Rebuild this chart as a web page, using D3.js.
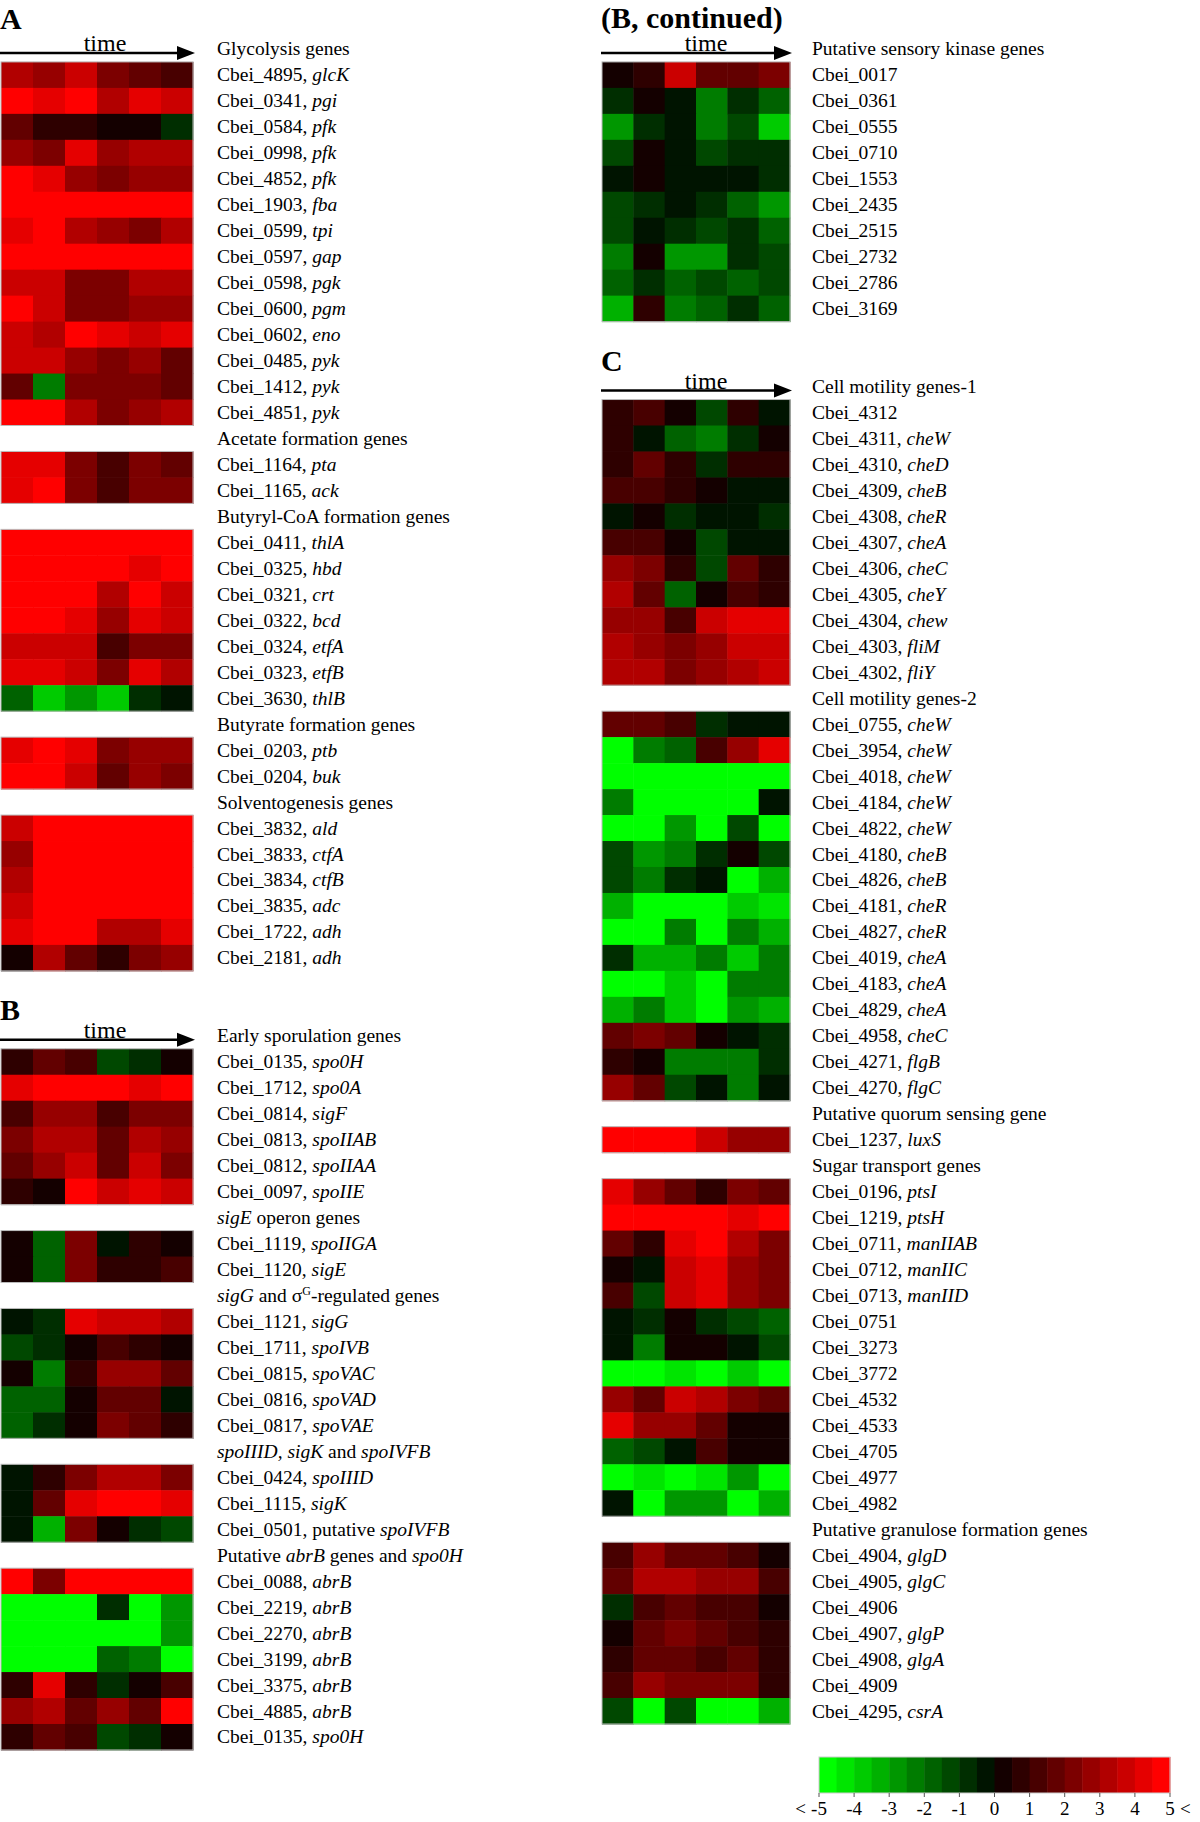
<!DOCTYPE html>
<html><head><meta charset="utf-8">
<script src="https://cdn.jsdelivr.net/npm/d3@7"></script>
<style>body{margin:0;background:#fff}svg{display:block}</style>
</head><body>
<svg id="c" width="1200" height="1822"></svg>
<script>
const leftRows = [
 [-1,"Glycolysis genes",null],
 [0,"Cbei_4895, *glcK*",[3.5,3,4,2.5,2,1.5]],
 [1,"Cbei_0341, *pgi*",[5,4.5,5,3.5,4.5,4]],
 [2,"Cbei_0584, *pfk*",[2,1,1,0.5,0.5,-1]],
 [3,"Cbei_0998, *pfk*",[3,2.5,4.5,3,3.5,3.5]],
 [4,"Cbei_4852, *pfk*",[5,4.5,3,2.5,3,3]],
 [5,"Cbei_1903, *fba*",[5,5,5,5,5,5]],
 [6,"Cbei_0599, *tpi*",[4.5,5,3.5,3,2.5,3.5]],
 [7,"Cbei_0597, *gap*",[5,5,5,5,5,5]],
 [8,"Cbei_0598, *pgk*",[4,4,2.5,2.5,3.5,3.5]],
 [9,"Cbei_0600, *pgm*",[5,4,2.5,2.5,3,3]],
 [10,"Cbei_0602, *eno*",[4,3.5,5,4.5,4,4.5]],
 [11,"Cbei_0485, *pyk*",[4,4,3,2.5,3,2]],
 [12,"Cbei_1412, *pyk*",[2,-2.5,2.5,2.5,2.5,2]],
 [13,"Cbei_4851, *pyk*",[5,5,3.5,2.5,3,3.5]],
 [14,"Acetate formation genes",null],
 [15,"Cbei_1164, *pta*",[4.5,4.5,2.5,1.5,2.5,2]],
 [16,"Cbei_1165, *ack*",[4.5,5,2.5,1.5,2.5,2.5]],
 [17,"Butyryl-CoA formation genes",null],
 [18,"Cbei_0411, *thlA*",[5,5,5,5,5,5]],
 [19,"Cbei_0325, *hbd*",[5,5,5,5,4.5,5]],
 [20,"Cbei_0321, *crt*",[5,5,5,3.5,5,4]],
 [21,"Cbei_0322, *bcd*",[5,5,4.5,3,4.5,4]],
 [22,"Cbei_0324, *etfA*",[4,4,4,1.5,2.5,2.5]],
 [23,"Cbei_0323, *etfB*",[4.5,4.5,4,2.5,4.5,3.5]],
 [24,"Cbei_3630, *thlB*",[-2,-4,-3,-4,-1,-0.5]],
 [25,"Butyrate formation genes",null],
 [26,"Cbei_0203, *ptb*",[4.5,5,4.5,2.5,3,3]],
 [27,"Cbei_0204, *buk*",[5,5,4,2,3,2.5]],
 [28,"Solventogenesis genes",null],
 [29,"Cbei_3832, *ald*",[4,5,5,5,5,5]],
 [30,"Cbei_3833, *ctfA*",[3,5,5,5,5,5]],
 [31,"Cbei_3834, *ctfB*",[3.5,5,5,5,5,5]],
 [32,"Cbei_3835, *adc*",[4,5,5,5,5,5]],
 [33,"Cbei_1722, *adh*",[4.5,5,5,3.5,3.5,4.5]],
 [34,"Cbei_2181, *adh*",[0.5,3.5,2,1,2.5,3]],
 [37,"Early sporulation genes",null],
 [38,"Cbei_0135, *spo0H*",[1,2,1.5,-1.5,-1,0.5]],
 [39,"Cbei_1712, *spo0A*",[4.5,5,5,5,4.5,5]],
 [40,"Cbei_0814, *sigF*",[1.5,3,3,1.5,2.5,2.5]],
 [41,"Cbei_0813, *spoIIAB*",[2.5,3.5,3.5,2,3.5,3]],
 [42,"Cbei_0812, *spoIIAA*",[2,3,4,2,4,2.5]],
 [43,"Cbei_0097, *spoIIE*",[1,0.5,5,4,4.5,4]],
 [44,"*sigE* operon genes",null],
 [45,"Cbei_1119, *spoIIGA*",[0.5,-2,2.5,-0.5,1,0.5]],
 [46,"Cbei_1120, *sigE*",[0.5,-2,2.5,1,1,1.5]],
 [47,"*sigG* and σ^G^-regulated genes",null],
 [48,"Cbei_1121, *sigG*",[-0.5,-1,4.5,4,4,3.5]],
 [49,"Cbei_1711, *spoIVB*",[-1.5,-1,0.5,1.5,1,0.5]],
 [50,"Cbei_0815, *spoVAC*",[0.5,-2.5,1,3,3,2]],
 [51,"Cbei_0816, *spoVAD*",[-2,-2,0.5,2,2,-0.5]],
 [52,"Cbei_0817, *spoVAE*",[-2,-1,0.5,2.5,2,1]],
 [53,"*spoIIID, sigK* and *spoIVFB*",null],
 [54,"Cbei_0424, *spoIIID*",[-0.5,1,2.5,3.5,3.5,2.5]],
 [55,"Cbei_1115, *sigK*",[-0.5,2,4.5,5,5,4.5]],
 [56,"Cbei_0501, putative *spoIVFB*",[-0.5,-3.5,2.5,0.5,-1,-1.5]],
 [57,"Putative *abrB* genes and *spo0H*",null],
 [58,"Cbei_0088, *abrB*",[5,2.5,5,5,5,5]],
 [59,"Cbei_2219, *abrB*",[-5,-5,-5,-1,-5,-3]],
 [60,"Cbei_2270, *abrB*",[-5,-5,-5,-5,-5,-3]],
 [61,"Cbei_3199, *abrB*",[-5,-5,-5,-2,-2.5,-5]],
 [62,"Cbei_3375, *abrB*",[1,4.5,1,-1,0.5,1.5]],
 [63,"Cbei_4885, *abrB*",[3,3.5,2,3,2,5]],
 [64,"Cbei_0135, *spo0H*",[1,2,1.5,-1.5,-1,0.5]]
];
const rightRows = [
 [-1,"Putative sensory kinase genes",null],
 [0,"Cbei_0017",[0.5,1,4,2,2,2.5]],
 [1,"Cbei_0361",[-1,0.5,-0.5,-2.5,-1,-2]],
 [2,"Cbei_0555",[-3,-1,-0.5,-2.5,-1.5,-4]],
 [3,"Cbei_0710",[-1.5,0.5,-0.5,-1.5,-1,-1]],
 [4,"Cbei_1553",[-0.5,0.5,-0.5,-0.5,-0.5,-1]],
 [5,"Cbei_2435",[-1.5,-1,-0.5,-1,-2,-3]],
 [6,"Cbei_2515",[-1.5,-0.5,-1,-1.5,-1,-2]],
 [7,"Cbei_2732",[-2.5,0.5,-3,-3,-1,-1.5]],
 [8,"Cbei_2786",[-2,-1,-2,-1.5,-2,-1.5]],
 [9,"Cbei_3169",[-3.5,1,-2.5,-2,-1,-2]],
 [12,"Cell motility genes-1",null],
 [13,"Cbei_4312",[1,1.5,0.5,-1.5,1,-0.5]],
 [14,"Cbei_4311, *cheW*",[1,-0.5,-2,-2.5,-1,0.5]],
 [15,"Cbei_4310, *cheD*",[1,2,1,-1,1,1]],
 [16,"Cbei_4309, *cheB*",[1.5,1.5,1,0.5,-0.5,-0.5]],
 [17,"Cbei_4308, *cheR*",[-0.5,0.5,-1,-0.5,-0.5,-1]],
 [18,"Cbei_4307, *cheA*",[1.5,1.5,0.5,-1.5,-0.5,-0.5]],
 [19,"Cbei_4306, *cheC*",[3,2.5,1,-1.5,2,1]],
 [20,"Cbei_4305, *cheY*",[3.5,2,-2,0.5,1.5,1]],
 [21,"Cbei_4304, *chew*",[3,3,1.5,4,4.5,4.5]],
 [22,"Cbei_4303, *fliM*",[3.5,3,2.5,3,4,4]],
 [23,"Cbei_4302, *fliY*",[3.5,3.5,2.5,3,3.5,4]],
 [24,"Cell motility genes-2",null],
 [25,"Cbei_0755, *cheW*",[2,2,1.5,-1,-0.5,-0.5]],
 [26,"Cbei_3954, *cheW*",[-5,-2.5,-2,1.5,3,4.5]],
 [27,"Cbei_4018, *cheW*",[-5,-5,-5,-5,-5,-5]],
 [28,"Cbei_4184, *cheW*",[-2.5,-5,-5,-5,-5,-0.5]],
 [29,"Cbei_4822, *cheW*",[-5,-5,-3,-5,-1.5,-5]],
 [30,"Cbei_4180, *cheB*",[-1.5,-3,-2.5,-1,0.5,-1.5]],
 [31,"Cbei_4826, *cheB*",[-1.5,-2.5,-1,-0.5,-5,-3.5]],
 [32,"Cbei_4181, *cheR*",[-3.5,-5,-5,-5,-4,-4.5]],
 [33,"Cbei_4827, *cheR*",[-5,-5,-2.5,-5,-2.5,-3.5]],
 [34,"Cbei_4019, *cheA*",[-1,-3.5,-3.5,-2.5,-4,-2.5]],
 [35,"Cbei_4183, *cheA*",[-5,-5,-4,-5,-2.5,-2.5]],
 [36,"Cbei_4829, *cheA*",[-3.5,-2.5,-4,-5,-3,-3.5]],
 [37,"Cbei_4958, *cheC*",[2,2.5,2,0.5,-0.5,-1]],
 [38,"Cbei_4271, *flgB*",[1,0.5,-2.5,-2.5,-2.5,-1]],
 [39,"Cbei_4270, *flgC*",[3,2,-1.5,-0.5,-2.5,-0.5]],
 [40,"Putative  quorum sensing gene",null],
 [41,"Cbei_1237, *luxS*",[5,5,5,4,3,3]],
 [42,"Sugar transport genes",null],
 [43,"Cbei_0196, *ptsI*",[4.5,3,2,1,2.5,2]],
 [44,"Cbei_1219, *ptsH*",[5,5,5,5,4.5,5]],
 [45,"Cbei_0711, *manIIAB*",[2,1,4.5,5,3.5,2.5]],
 [46,"Cbei_0712, *manIIC*",[0.5,-0.5,4,4.5,3,2.5]],
 [47,"Cbei_0713, *manIID*",[1.5,-1.5,4,4.5,3,2.5]],
 [48,"Cbei_0751",[-0.5,-1,0.5,-1,-1.5,-2]],
 [49,"Cbei_3273",[-0.5,-2.5,0.5,0.5,-0.5,-1.5]],
 [50,"Cbei_3772",[-5,-5,-4.5,-5,-4,-5]],
 [51,"Cbei_4532",[3,2,4,3.5,2.5,2]],
 [52,"Cbei_4533",[4.5,3,3,2,0.5,0.5]],
 [53,"Cbei_4705",[-2,-1.5,-0.5,1.5,0.5,0.5]],
 [54,"Cbei_4977",[-5,-4.5,-5,-4.5,-3,-5]],
 [55,"Cbei_4982",[-0.5,-5,-3,-3,-5,-3.5]],
 [56,"Putative granulose formation genes",null],
 [57,"Cbei_4904, *glgD*",[1.5,3,2,2,1.5,0.5]],
 [58,"Cbei_4905, *glgC*",[2,3.5,3.5,3,3,1.5]],
 [59,"Cbei_4906",[-1,1.5,2,1.5,1.5,0.5]],
 [60,"Cbei_4907, *glgP*",[0.5,2,2.5,2,1.5,1]],
 [61,"Cbei_4908, *glgA*",[1,2,2,1.5,2,1]],
 [62,"Cbei_4909",[1.5,3,2.5,2.5,2.5,1]],
 [63,"Cbei_4295, *csrA*",[-1.5,-5,-1.5,-5,-5,-3.5]]
];
const timePoints = [1,2,3,4,5,6];
const panelLetters = [["A",-2.45,"left",18],["B",35.55,"left",22],["(B, continued)",-2.45,"right",17],["C",10.55,"right",22]];
const arrowSlots = {left:[-1,37], right:[-1,12]};
const legendValues = [-5,-4.5,-4,-3.5,-3,-2.5,-2,-1.5,-1,-0.5,0.5,1,1.5,2,2.5,3,3.5,4,4.5,5];
const legendTicks = [-5,-4,-3,-2,-1,0,1,2,3,4,5];

const svg = d3.select("#c");
const FONT = "'Liberation Serif','Times New Roman',serif";
const rowH = 25.97;
const y = d3.scaleLinear().domain([0,1]).range([74.9, 74.9+rowH]);
const color = d3.scaleLinear().domain([-5,-0.5,0,0.5,5])
  .range(["#00ff00","#001400","#000000","#140000","#ff0000"]).clamp(true);
function quant(v){ if(v===0) return 0; return Math.sign(v)*Math.round(Math.abs(v)*2)/2; }

const cols = {
  left: {x0:1, x1:193, lx:217, rows:leftRows},
  right:{x0:602, x1:790, lx:812, rows:rightRows}
};

function richText(g, str, x, yy){
  const t = g.append("text").attr("x",x).attr("y",yy).attr("font-family",FONT).attr("font-size",19.5).attr("fill","#000");
  const re = /(\*[^*]+\*|\^[^^]+\^)/g;
  str.split(re).filter(s=>s.length).forEach(p=>{
    if(p[0]==="*") t.append("tspan").attr("font-style","italic").text(p.slice(1,-1));
    else if(p[0]==="^") t.append("tspan").attr("font-size",12).attr("baseline-shift","super").text(p.slice(1,-1));
    else t.append("tspan").text(p);
  });
}

Object.entries(cols).forEach(([side,c])=>{
  const x = d3.scaleBand().domain(timePoints).range([c.x0,c.x1]);
  const g = svg.append("g");
  c.rows.filter(r=>r[2]).forEach(r=>{
    g.selectAll(null).data(r[2].map((v,i)=>({v,t:timePoints[i]}))).join("rect")
      .attr("x",d=>x(d.t)).attr("y",y(r[0])-rowH/2).attr("width",x.bandwidth()+0.5).attr("height",rowH+0.5)
      .attr("fill",d=>color(quant(d.v)));
  });
  let blocks=[], cur=null;
  c.rows.forEach(r=>{
    if(r[2]){ if(cur && r[0]===cur[1]+1) cur[1]=r[0]; else { cur=[r[0],r[0]]; blocks.push(cur);} }
    else cur=null;
  });
  blocks.forEach(b=>g.append("rect").attr("x",c.x0).attr("y",y(b[0])-rowH/2).attr("width",c.x1-c.x0)
     .attr("height",(b[1]-b[0]+1)*rowH).attr("fill","none").attr("stroke","#bbb").attr("stroke-width",1));
  c.rows.forEach(r=>richText(g, r[1], c.lx, y(r[0])+6.5));
  arrowSlots[side].forEach(s=>{
    const ay = y(s)+4;
    g.append("line").attr("x1",c.x0-1).attr("x2",c.x1-12).attr("y1",ay).attr("y2",ay).attr("stroke","#000").attr("stroke-width",2.5);
    g.append("path").attr("d",`M${c.x1-16},${ay-7}L${c.x1+2},${ay}L${c.x1-16},${ay+7}Z`).attr("fill","#000");
    g.append("text").attr("x",c.x0+104).attr("y",ay-2).attr("text-anchor","middle").attr("font-family",FONT).attr("font-size",24).text("time");
  });
});

panelLetters.forEach(([t,s,side,off])=>{
  svg.append("text").attr("x",cols[side].x0-1).attr("y",y(s)+off).attr("font-family",FONT).attr("font-weight","bold")
    .attr("font-size",30).text(t);
});

const lx = d3.scaleLinear().domain([-5,5]).range([819,1170]);
const bw = (lx(5)-lx(-5))/legendValues.length;
const lg = svg.append("g");
lg.selectAll("rect.b").data(legendValues).join("rect").attr("class","b")
  .attr("x",(d,i)=>lx(-5)+i*bw).attr("y",1757).attr("width",bw+0.5).attr("height",36).attr("fill",d=>color(d));
lg.append("rect").attr("x",lx(-5)).attr("y",1757).attr("width",lx(5)-lx(-5)).attr("height",36).attr("fill","none").attr("stroke","#ccc");
lg.selectAll("line.t").data(legendTicks).join("line").attr("x1",d=>lx(d)).attr("x2",d=>lx(d)).attr("y1",1793).attr("y2",1797).attr("stroke","#555");
lg.selectAll("text.t").data(legendTicks).join("text").attr("x",d=>lx(d)).attr("y",1815).attr("text-anchor","middle")
  .attr("font-family",FONT).attr("font-size",19).text(d=>d<0?"-"+Math.abs(d):d);
lg.append("text").attr("x",lx(-5)-13).attr("y",1815).attr("text-anchor","end").attr("font-family",FONT).attr("font-size",19).text("<");
lg.append("text").attr("x",lx(5)+10).attr("y",1815).attr("text-anchor","start").attr("font-family",FONT).attr("font-size",19).text("<");
</script>
</body></html>
